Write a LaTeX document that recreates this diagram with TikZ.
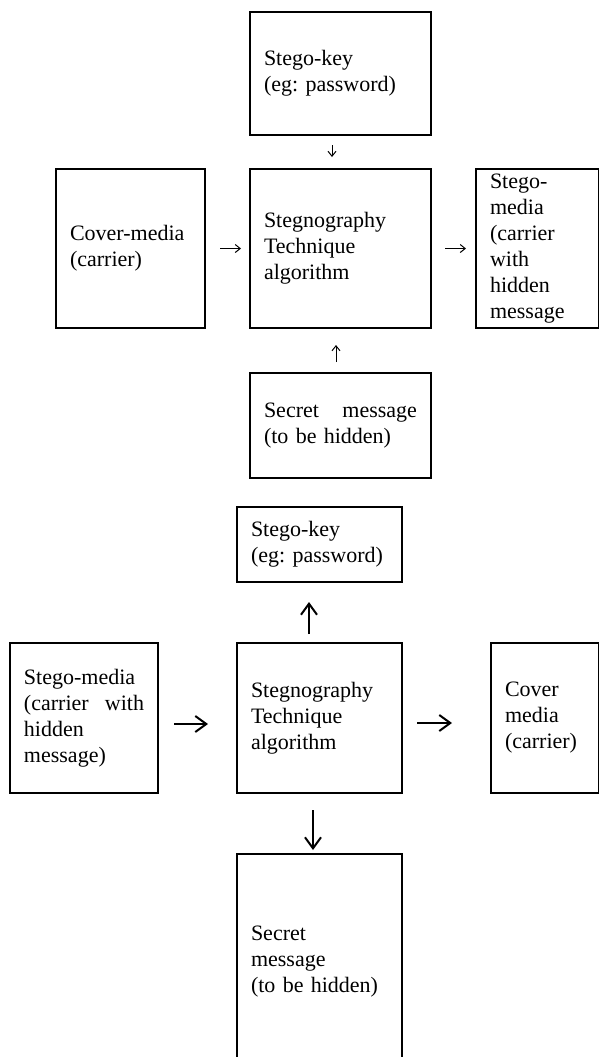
\documentclass[tikz,border=0pt]{standalone}
\usepackage{fontspec}
\setmainfont{Liberation Serif}
\usepackage{tikz}
\usetikzlibrary{arrows.meta}
\frenchspacing

\begin{document}
\begin{tikzpicture}[
  x=0.5pt, y=-0.5pt,
  font=\fontsize{11}{13}\selectfont,
  blk/.style={draw, line width=1pt, anchor=north west, align=left,
    inner xsep=7pt, inner ysep=0pt},
  thinarr/.style={line width=0.5pt, -{Straight Barb[length=2.5pt,width=4pt]}},
  thickarr/.style={line width=1pt, -{Straight Barb[length=5.5pt,width=8pt]}}
]
\useasboundingbox (0,0) rectangle (599,1057);
% embedding
\node[blk, minimum width=90.5pt, minimum height=61.5pt, text width=76.5pt] (key1) at (249,11) {Stego-key\\(eg: password)};
\node[blk, minimum width=74.5pt, minimum height=79.5pt, text width=60.5pt] (cover1) at (55,168) {Cover-media\\(carrier)};
\node[blk, minimum width=90.5pt, minimum height=79.5pt, text width=76.5pt] (algo1) at (249,168) {Stegnography\\Technique\\algorithm};
\node[blk, minimum width=61.5pt, minimum height=79.5pt, text width=47.5pt] (smedia1) at (475,168) {Stego-\\media\\(carrier\\with\\hidden\\message};
\node[blk, minimum width=90.5pt, minimum height=52.5pt, text width=76.5pt] (secret1) at (249,372) {Secret\hfill message\\(to be hidden)};
\draw[thinarr, shorten <=4.5pt, shorten >=5.5pt] ([xshift=-4.25pt]key1.south) -- ([xshift=-4.25pt]algo1.north);
\draw[thinarr, shorten <=7pt, shorten >=4pt] (cover1.east) -- (algo1.west);
\draw[thinarr, shorten <=6.5pt, shorten >=4.5pt] (algo1.east) -- (smedia1.west);
\draw[thinarr, shorten <=5pt, shorten >=8pt] ([xshift=-2.25pt]secret1.north) -- ([xshift=-2.25pt]algo1.south);
% extraction
\node[blk, minimum width=82.5pt, minimum height=37.5pt, text width=68.5pt] (key2) at (236,506) {Stego-key\\(eg: password)};
\node[blk, minimum width=74pt, minimum height=75pt, text width=60pt] (smedia2) at (9,642) {Stego-media\\(carrier\hfill with\\hidden\\message)};
\node[blk, minimum width=82.5pt, minimum height=75pt, text width=68.5pt] (algo2) at (236,642) {Stegnography\\Technique\\algorithm};
\node[blk, minimum width=54pt, minimum height=75pt, text width=40pt] (cover2) at (490,642) {Cover\\media\\(carrier)};
\node[blk, minimum width=82.5pt, minimum height=108pt, text width=68.5pt] (secret2) at (236,853) {Secret\\message\\(to be hidden)};
\draw[thickarr, shorten <=7.5pt, shorten >=14pt] ([yshift=-3pt]smedia2.east) -- ([yshift=-3pt]algo2.west);
\draw[thickarr, shorten <=7pt, shorten >=19pt] ([yshift=-2.5pt]algo2.east) -- ([yshift=-2.5pt]cover2.west);
\draw[thickarr, shorten <=4pt, shorten >=9.5pt] ([xshift=-5.25pt]algo2.north) -- ([xshift=-5.25pt]key2.south);
\draw[thickarr, shorten <=8pt, shorten >=1.5pt] ([xshift=-3.25pt]algo2.south) -- ([xshift=-3.25pt]secret2.north);
\end{tikzpicture}
\end{document}
